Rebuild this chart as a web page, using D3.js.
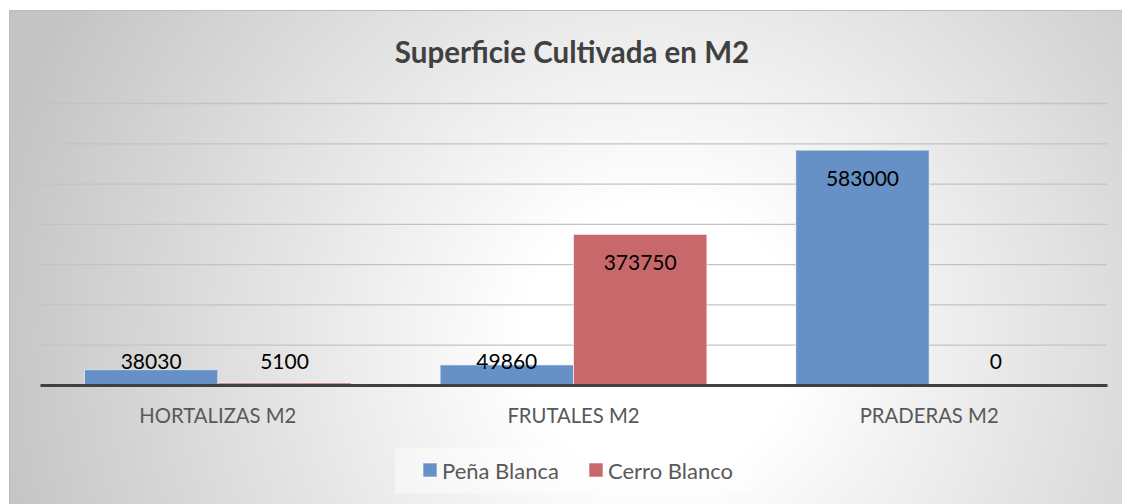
<!DOCTYPE html>
<html lang="es">

<head>
    <meta charset="UTF-8">
    <title>Superficie Cultivada en M2</title>
    <script src="https://d3js.org/d3.v7.min.js"></script>
    <style>
        body { margin: 0; background: #fff; }
        text { font-family: Lato, "Open Sans", sans-serif; }
    </style>
</head>

<body>
    <script>
        // datos del grafico
        var categorias = ["HORTALIZAS M2", "FRUTALES M2", "PRADERAS M2"];
        var series = ["Peña Blanca", "Cerro Blanco"];
        var penaBlanca = [38030, 49860, 583000];
        var cerroBlanco = [5100, 373750, 0];
        var ticks = [0, 100000, 200000, 300000, 400000, 500000, 600000, 700000];
        var colores = ["#6591c6", "#c8686a"];

        var width = 1122;
        var height = 504;
        var svg = d3.select("body").append("svg")
            .attr("width", width)
            .attr("height", height);

        // fondo con degradado radial
        var grad = svg.append("defs").append("radialGradient")
            .attr("id", "fondo")
            .attr("gradientUnits", "userSpaceOnUse")
            .attr("cx", 660).attr("cy", 340).attr("r", 680);
        grad.append("stop").attr("offset", "0").attr("stop-color", "#ffffff");
        grad.append("stop").attr("offset", "0.2").attr("stop-color", "#ffffff");
        grad.append("stop").attr("offset", "1").attr("stop-color", "#c4c4c4");

        svg.append("rect")
            .attr("x", 9.5).attr("y", 10.5)
            .attr("width", 1130).attr("height", 510)
            .attr("fill", "url(#fondo)")
            .attr("stroke", "#bcbcbc")
            .attr("stroke-width", 1);

        var x0 = d3.scaleBand()
            .domain(categorias)
            .range([40, 1107])
            .paddingInner(0.25)
            .paddingOuter(0.125);

        var x1 = d3.scaleBand()
            .domain(series)
            .range([0, x0.bandwidth()]);

        var y = d3.scaleLinear()
            .domain([0, d3.max(ticks)])
            .range([385, 103]);

        // lineas de division
        var yaxis = d3.axisLeft(y)
            .tickValues(ticks.slice(1))
            .tickSize(-(1107 - 40))
            .tickFormat("");
        var gy = svg.append("g")
            .attr("transform", "translate(40,0)")
            .call(yaxis);
        gy.select(".domain").remove();
        gy.selectAll("line").attr("stroke", "#c3c3c3").attr("stroke-width", 1.3);

        var datos = [];
        categorias.forEach(function (c, i) {
            datos.push({ cat: c, serie: series[0], valor: penaBlanca[i], color: colores[0] });
            datos.push({ cat: c, serie: series[1], valor: cerroBlanco[i], color: colores[1] });
        });

        svg.selectAll("rect.barra")
            .data(datos)
            .enter()
            .append("rect")
            .attr("class", "barra")
            .attr("x", function (d) { return x0(d.cat) + x1(d.serie); })
            .attr("y", function (d) { return y(d.valor); })
            .attr("width", x1.bandwidth())
            .attr("height", function (d) { return y(0) - y(d.valor); })
            .attr("fill", function (d) { return d.color; })
            .attr("stroke", "rgba(255,255,255,0.6)")
            .attr("stroke-width", function (d) { return d.valor > 0 ? 1 : 0; });

        // eje x
        var xaxis = d3.axisBottom(x0).tickSize(0).tickPadding(24);
        var gx = svg.append("g")
            .attr("transform", "translate(0," + y(0) + ")")
            .call(xaxis);
        gx.select(".domain").attr("stroke", "#404040").attr("stroke-width", 3);
        gx.selectAll("text")
            .attr("fill", "#595959")
            .style("font-size", "20.3px");

        // etiquetas de datos
        svg.selectAll("text.etiqueta")
            .data(datos)
            .enter()
            .append("text")
            .attr("class", "etiqueta")
            .attr("x", function (d) { return x0(d.cat) + x1(d.serie) + x1.bandwidth() / 2; })
            .attr("y", function (d) { return Math.min(y(d.valor) + 27, y(0) - 25); })
            .attr("text-anchor", "middle")
            .attr("dominant-baseline", "central")
            .attr("fill", "#000")
            .style("font-size", "21px")
            .text(function (d) { return d.valor; });

        // titulo
        svg.append("text")
            .attr("x", 572)
            .attr("y", 51)
            .attr("text-anchor", "middle")
            .attr("dominant-baseline", "central")
            .attr("fill", "#404040")
            .style("font-size", "29.5px")
            .style("font-weight", "bold")
            .text("Superficie Cultivada en M2");

        // leyenda
        var leyenda = svg.append("g");
        leyenda.append("rect")
            .attr("x", 395).attr("y", 448)
            .attr("width", 355).attr("height", 45)
            .attr("fill", "rgba(255,255,255,0.45)");
        var posLeyenda = [423, 589];
        series.forEach(function (s, i) {
            leyenda.append("rect")
                .attr("x", posLeyenda[i]).attr("y", 463)
                .attr("width", 14).attr("height", 14)
                .attr("fill", colores[i])
                .attr("stroke", "rgba(255,255,255,0.6)");
            leyenda.append("text")
                .attr("x", posLeyenda[i] + 19)
                .attr("y", 470)
                .attr("dominant-baseline", "central")
                .attr("fill", "#595959")
                .style("font-size", "22px")
                .text(s);
        });
    </script>
</body>

</html>
